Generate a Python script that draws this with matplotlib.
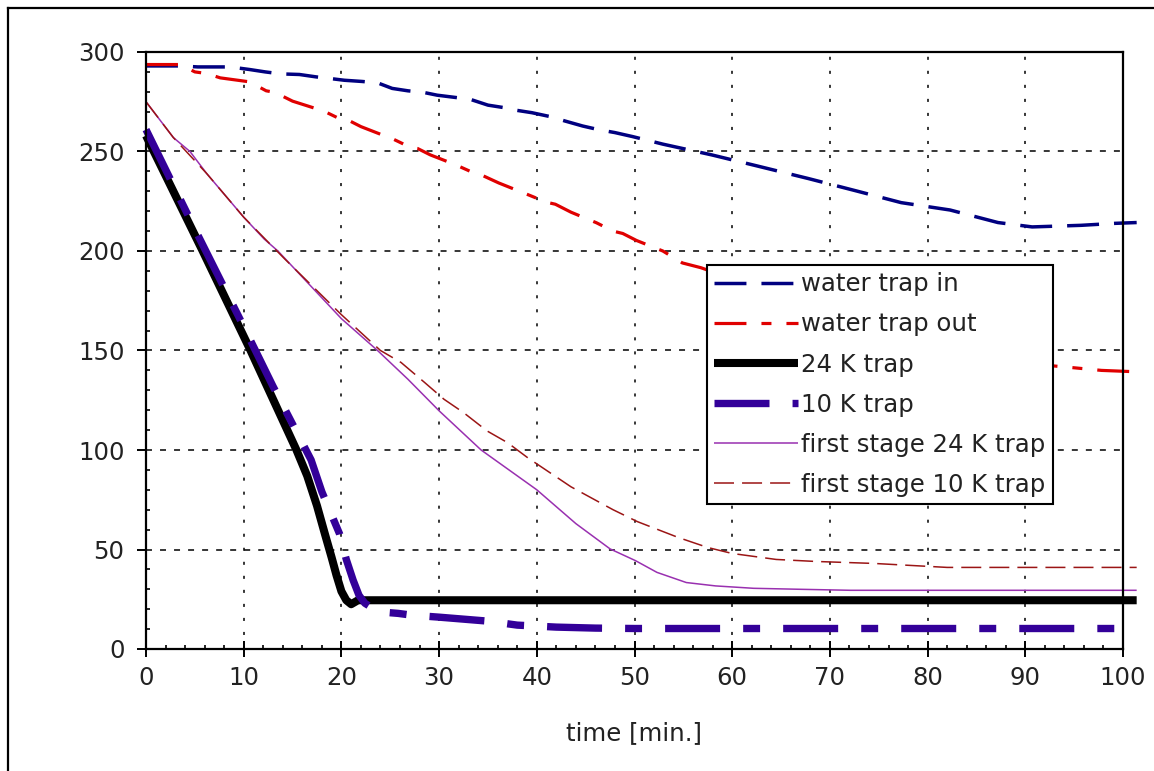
import matplotlib
matplotlib.use("Agg")
import matplotlib.pyplot as plt
from matplotlib.ticker import MultipleLocator
from matplotlib.lines import Line2D

plt.rcParams['font.family'] = ['DejaVu Sans']
plt.rcParams['lines.scale_dashes'] = False

# ---- data (time in minutes, temperature in K) ----
t_in = [0, 3.5, 5.3, 8.6, 10.6, 12.2, 13.8, 15.7, 17.4, 18.8, 20.3, 22.1, 23.7, 25.2, 26.8,
        28.4, 29.8, 31.6, 33.2, 35, 36.7, 37.8, 39.5, 41.4, 42.9, 44.7, 46.3, 48, 49.8,
        52.9, 57.9, 62.5, 67.8, 72.7, 77.3, 82.3, 87.2, 90.7, 95.7, 99.2, 101.4]
v_in = [293, 293, 292.5, 292.5, 291.2, 290, 289, 288.7, 287.5, 286.7, 285.8, 285.2, 284.5,
        281.7, 280.5, 279.7, 278.3, 277.2, 276.2, 273.3, 272, 270.8, 269.5, 267.5, 265.3,
        262.8, 261, 259.5, 257.5, 253.7, 248.3, 242.8, 236.4, 230.2, 224.3, 220.6, 214.3,
        212.1, 212.9, 213.9, 214.3]

t_out = [0, 3.5, 5, 6.2, 7.6, 10.6, 12.3, 13.2, 15, 18.2, 19.8, 20.8, 22, 25.4, 27.1, 27.8,
         29.1, 31.7, 33.2, 34.2, 36.1, 39.1, 41, 41.9, 43.5, 46.1, 47.8, 48.8, 50.2, 52.9,
         54.9, 56.8, 60, 65, 70, 75, 80, 85, 90, 94.6, 97.8, 101.4]
v_out = [293.7, 293.7, 290, 289.2, 287, 285, 280.5, 279.7, 275.3, 270.3, 266.5, 265.5, 262.5,
         256, 252, 251.5, 248.3, 243.3, 240, 238.5, 234.2, 228.3, 224.5, 223.5, 219.5, 214.2,
         210, 208.8, 205.3, 200, 194, 191.6, 186, 178, 170, 162.5, 155, 148.5, 143.5, 141.5,
         140, 139.3]

t_24 = [0, 5.8, 10.7, 15.4, 16.5, 17.5, 18.3, 19, 19.5, 20, 20.5, 21, 21.7, 22.5, 101.4]
v_24 = [258, 200, 150, 100, 87, 72, 58, 46, 37, 29, 24.5, 22.5, 24.5, 24.5, 24.5]

t_10 = [0, 5, 10, 13, 15, 16.9, 18, 19.8, 20.5, 21.2, 21.8, 22.4, 23.8, 25.8, 27.2, 30, 35,
        38, 42, 46, 50, 101.4]
v_10 = [261, 211, 162, 132, 113, 95, 79, 58, 45, 34.6, 27, 23, 18.7, 17.9, 17, 16, 14, 12,
        11, 10.5, 10.3, 10.3]

t_fs24 = [0, 2.8, 4.5, 6.2, 10, 12.1, 13.5, 20, 23.7, 26.8, 30, 34.3, 40, 44, 47.5, 50.1,
          52.3, 55.3, 58.3, 62.2, 67, 72.1, 101.4]
v_fs24 = [275, 257, 250, 239, 217, 206, 200, 166, 150, 135.6, 119.7, 100, 80, 63, 50.3, 44.4,
          38.5, 33.4, 31.7, 30.5, 30, 29.5, 29.5]

t_fs10 = [0, 2.8, 6.2, 10, 14.2, 20, 24, 26.1, 28.5, 30.5, 32.5, 34.9, 37, 39.1, 43.5, 47.8,
          50.3, 54.5, 57.5, 60, 64.5, 68.5, 74.5, 82, 101.4]
v_fs10 = [275, 257, 239, 217, 196, 168, 150, 144, 134, 125.5, 118.8, 109.6, 103.7, 96, 81.5,
          70, 64, 56, 51, 48, 45, 44, 43, 41, 41]

labels = ["water trap in", "water trap out", "24 K trap", "10 K trap",
          "first stage 24 K trap", "first stage 10 K trap"]
x_ticks = [0, 10, 20, 30, 40, 50, 60, 70, 80, 90, 100]
y_ticks = [0, 50, 100, 150, 200, 250, 300]
x_label = "time [min.]"

# ---- figure ----
fig = plt.figure(figsize=(11.54, 7.71), dpi=100)
fig.patch.set_facecolor("white")
W, H = 1154, 771
ax = fig.add_axes([146 / W, 1 - 649 / H, (1123 - 146) / W, (649 - 52) / H])

FS = 17.6

common = dict(clip_on=False, solid_capstyle='butt', dash_capstyle='butt')
ax.plot(t_in, v_in, color='#000080', lw=2.5, dashes=(23, 10.8), label=labels[0], zorder=3, **common)
ax.plot(t_out, v_out, color='#E00000', lw=2.3, dashes=(23, 10.8, 7.2, 10.8), label=labels[1], zorder=3, **common)
ax.plot(t_24, v_24, color='black', lw=5.8, label=labels[2], zorder=4, **common)
ax.plot(t_10, v_10, color='#330099', lw=5.3, dashes=(39.6, 16.6, 12.2, 16.6), label=labels[3], zorder=5, **common)
ax.plot(t_fs24, v_fs24, color='#9930B0', lw=1.1, label=labels[4], zorder=6, **common)
ax.plot(t_fs10, v_fs10, color='#9B1515', lw=1.1, dashes=(14.4, 5.8), label=labels[5], zorder=6, **common)

ax.set_xlim(0, 100)
ax.set_ylim(0, 300)
ax.xaxis.set_minor_locator(MultipleLocator(2))
ax.yaxis.set_minor_locator(MultipleLocator(10))
ax.set_xticks(x_ticks)
ax.set_yticks(y_ticks)
ax.set_xticklabels([str(v) for v in x_ticks])
ax.set_yticklabels([str(v) for v in y_ticks])

ax.tick_params(axis='x', which='major', direction='inout', length=11, width=1.4,
               labelsize=FS, pad=7, colors='black', labelcolor='#222222')
ax.tick_params(axis='x', which='minor', direction='in', length=3, width=1.2)
ax.tick_params(axis='y', which='major', direction='out', length=6.5, width=1.4,
               labelsize=FS, pad=9, labelcolor='#222222')
ax.tick_params(axis='y', which='minor', direction='in', length=3, width=1.2)

for s in ax.spines.values():
    s.set_linewidth(1.6)
    s.set_color('black')
    s.set_zorder(7)

# grid: dotted verticals, dashed horizontals
for xv in x_ticks[1:-1]:
    ax.axvline(xv, color='black', lw=1.1, dashes=(2.2, 7.9), zorder=1)
for yv in y_ticks[1:-1]:
    ax.axhline(yv, color='black', lw=1.1, dashes=(4.3, 5.8), zorder=1)

ax.set_xlabel(x_label, fontsize=FS, color='#222222', va='center')
ax.xaxis.set_label_coords(0.5, (649 - 733) / 597)

leg = ax.legend(loc='upper left', bbox_to_anchor=((706.7 - 146) / 977, (649 - 265) / 597),
                borderaxespad=0, fontsize=FS, frameon=True, fancybox=False, shadow=False,
                framealpha=1, edgecolor='black', handlelength=3.45, handletextpad=0.12,
                labelspacing=0.66, borderpad=0.3)
leg.get_frame().set_linewidth(1.5)
leg.set_zorder(10)
for txt in leg.get_texts():
    txt.set_color('#222222')

# outer frame (top and left edges visible)
fig.add_artist(Line2D([8 / W, 8 / W], [0, 1 - 8 / H], color='black', lw=1.6, transform=fig.transFigure))
fig.add_artist(Line2D([8 / W, 1], [1 - 8 / H, 1 - 8 / H], color='black', lw=1.6, transform=fig.transFigure))

fig.savefig("out.png", dpi=100)
